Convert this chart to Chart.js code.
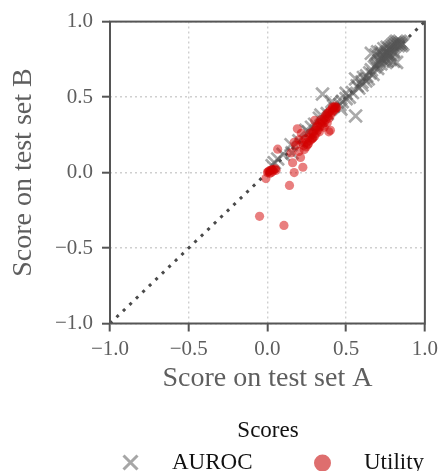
<!DOCTYPE html>
<html>
<head>
<meta charset="utf-8">
<script src="https://cdn.jsdelivr.net/npm/chart.js@4/dist/chart.umd.min.js"></script>
<style>
html, body { margin: 0; background: #fff; }
#wrap { width: 443px; height: 471px; }
</style>
</head>
<body>
<div id="wrap"><canvas id="score_chart"></canvas></div>
<script>
// scores: A = test set A (x), B = test set B (y)
const aurocA = [0.03, 0.044, 0.065, 0.10, 0.15, 0.156, 0.20, 0.245, 0.26, 0.28, 0.30, 0.33, 0.34, 0.35, 0.38, 0.41, 0.42,
  0.46, 0.466, 0.475, 0.50, 0.50, 0.52, 0.54, 0.56, 0.57, 0.58, 0.56, 0.60, 0.60, 0.61, 0.625, 0.63, 0.64, 0.65, 0.66,
  0.66, 0.67, 0.68, 0.69, 0.69, 0.70, 0.70, 0.70, 0.71, 0.72, 0.72, 0.72, 0.73, 0.73, 0.74, 0.74, 0.74, 0.75, 0.75,
  0.76, 0.76, 0.76, 0.76, 0.77, 0.77, 0.78, 0.78, 0.78, 0.78, 0.79, 0.79, 0.80, 0.80, 0.80, 0.80, 0.81, 0.81, 0.82,
  0.82, 0.82, 0.83, 0.83, 0.84, 0.84, 0.85, 0.85, 0.86];
const aurocB = [0.045, 0.065, 0.09, 0.12, 0.184, 0.13, 0.21, 0.28, 0.27, 0.30, 0.32, 0.36, 0.38, 0.52, 0.39, 0.47, 0.44,
  0.45, 0.42, 0.47, 0.525, 0.49, 0.50, 0.53, 0.375, 0.575, 0.56, 0.62, 0.60, 0.58, 0.63, 0.607, 0.64, 0.62, 0.66, 0.68,
  0.79, 0.65, 0.70, 0.715, 0.78, 0.69, 0.72, 0.80, 0.74, 0.72, 0.76, 0.80, 0.75, 0.78, 0.77, 0.74, 0.82, 0.79, 0.76,
  0.80, 0.78, 0.74, 0.83, 0.82, 0.79, 0.83, 0.81, 0.78, 0.75, 0.84, 0.82, 0.85, 0.83, 0.80, 0.737, 0.86, 0.84, 0.85,
  0.87, 0.73, 0.86, 0.84, 0.87, 0.85, 0.86, 0.84, 0.85];

const utilityA = [0.0, 0.01, 0.02, 0.03, 0.04, 0.015, 0.005, 0.025, 0.05, 0.035, -0.01, 0.055,
  0.065, 0.14, 0.17, 0.225, 0.16, 0.21, 0.19, 0.215, 0.15, 0.18, 0.245, 0.30, 0.40, -0.05, 0.105, 0.20, 0.22, 0.17,
  0.287, 0.255, 0.20, 0.234, 0.39, 0.413, 0.44,
  0.25, 0.26, 0.27, 0.28, 0.28, 0.29, 0.30, 0.30, 0.31, 0.31, 0.32, 0.32, 0.33, 0.33, 0.34, 0.34, 0.35, 0.35, 0.36,
  0.36, 0.37, 0.37, 0.38, 0.38, 0.39, 0.39, 0.40, 0.40, 0.41, 0.41, 0.42, 0.42, 0.43, 0.43, 0.435, 0.38, 0.36, 0.27,
  0.24, 0.23, 0.26, 0.29, 0.33];
const utilityB = [0.0, 0.01, 0.015, 0.02, 0.02, -0.005, 0.005, 0.0, 0.025, 0.01, -0.04, 0.015,
  0.155, -0.085, 0.0, 0.035, 0.065, 0.10, 0.29, 0.26, 0.13, 0.18, 0.17, 0.345, 0.28, -0.29, -0.35, 0.14, 0.20, 0.20,
  0.228, 0.184, 0.217, 0.152, 0.27, 0.434, 0.43,
  0.20, 0.23, 0.21, 0.25, 0.22, 0.27, 0.24, 0.28, 0.26, 0.30, 0.28, 0.31, 0.30, 0.33, 0.32, 0.35, 0.31, 0.34, 0.36,
  0.33, 0.35, 0.38, 0.37, 0.39, 0.36, 0.40, 0.38, 0.41, 0.40, 0.42, 0.41, 0.43, 0.42, 0.44, 0.43, 0.33, 0.30, 0.26,
  0.22, 0.18, 0.19, 0.23, 0.27];

const diagonal = [-1, 1];
const tickValues = [-1, -0.5, 0, 0.5, 1];
const seriesNames = ['AUROC', 'Utility'];

const SERIF = "'Liberation Serif', 'DejaVu Serif', serif";
const TEXT_GREY = '#5e5e5e';
const AXIS_GREY = '#555555';
const AUROC_COLOR = 'rgba(85, 85, 85, 0.5)';
const UTIL_COLOR = 'rgba(212, 0, 0, 0.5)';

const toPoints = (xs, ys) => xs.map((x, i) => ({ x: x, y: ys[i] }));
const fmtTick = v => v.toFixed(1).replace('-', '\u2212');

// frame round the plot + legend under it
const framePlugin = {
    id: 'frame',
    afterDraw(chart) {
        const ctx = chart.ctx;
        const a = chart.chartArea;
        ctx.save();
        ctx.strokeStyle = AXIS_GREY;
        ctx.lineWidth = 2;
        ctx.strokeRect(a.left, a.top, a.right - a.left, a.bottom - a.top);

        // legend
        ctx.fillStyle = '#111';
        ctx.font = '23px ' + SERIF;
        ctx.textAlign = 'center';
        ctx.textBaseline = 'alphabetic';
        ctx.fillText('Scores', 268, 437);

        ctx.textAlign = 'left';
        ctx.fillText(seriesNames[0], 172, 469);
        ctx.fillText(seriesNames[1], 364, 469);

        ctx.strokeStyle = 'rgba(150, 150, 150, 0.85)';
        ctx.lineWidth = 3;
        ctx.beginPath();
        ctx.moveTo(123.5, 455.5); ctx.lineTo(137.5, 469.5);
        ctx.moveTo(137.5, 455.5); ctx.lineTo(123.5, 469.5);
        ctx.stroke();

        ctx.fillStyle = 'rgba(222, 110, 110, 1)';
        ctx.beginPath();
        ctx.arc(322.5, 463, 8.5, 0, Math.PI * 2);
        ctx.fill();
        ctx.restore();
    }
};

const axisCommon = {
    type: 'linear',
    min: -1,
    max: 1,
    afterBuildTicks(scale) {
        scale.ticks = tickValues.map(v => ({ value: v }));
    },
    ticks: {
        color: TEXT_GREY,
        font: { family: SERIF, size: 21 },
        callback: v => fmtTick(v)
    },
    grid: {
        color: '#cfcfcf',
        lineWidth: 1.4,
        tickColor: AXIS_GREY,
        tickWidth: 2,
        tickLength: 8,
        tickBorderDash: []
    },
    border: { display: false, dash: [2, 3] }
};

new Chart(document.getElementById('score_chart'), {
    type: 'scatter',
    data: {
        datasets: [{
            type: 'line',
            label: 'diagonal',
            data: toPoints(diagonal, diagonal),
            borderColor: '#4a4a4a',
            borderWidth: 3,
            borderDash: [3, 6],
            pointRadius: 0,
            fill: false,
            order: 3
        }, {
            label: seriesNames[0],
            data: toPoints(aurocA, aurocB),
            pointStyle: 'crossRot',
            pointRadius: 9,
            borderWidth: 2.7,
            borderColor: AUROC_COLOR,
            backgroundColor: AUROC_COLOR,
            order: 2
        }, {
            label: seriesNames[1],
            data: toPoints(utilityA, utilityB),
            pointStyle: 'circle',
            pointRadius: 4.6,
            borderWidth: 0,
            backgroundColor: UTIL_COLOR,
            order: 1
        }]
    },
    options: {
        responsive: true,
        maintainAspectRatio: false,
        animation: false,
        events: [],
        layout: { padding: { top: 16, right: 17, left: 0, bottom: 0 } },
        plugins: {
            legend: { display: false },
            tooltip: { enabled: false }
        },
        scales: {
            x: Object.assign({}, axisCommon, {
                position: 'bottom',
                ticks: Object.assign({}, axisCommon.ticks, { padding: 5, maxRotation: 0 }),
                title: {
                    display: true,
                    text: 'Score on test set A',
                    color: TEXT_GREY,
                    font: { family: SERIF, size: 28 },
                    padding: { top: 0, bottom: 76 }
                },
                afterFit(scale) { scale.height = 147.5; }
            }),
            y: Object.assign({}, axisCommon, {
                position: 'left',
                ticks: Object.assign({}, axisCommon.ticks, { padding: 9 }),
                title: {
                    display: true,
                    text: 'Score on test set B',
                    color: TEXT_GREY,
                    font: { family: SERIF, size: 28 },
                    padding: { top: 7, bottom: 0 }
                },
                afterFit(scale) { scale.width = 110; }
            })
        }
    },
    plugins: [framePlugin]
});
</script>
</body>
</html>
